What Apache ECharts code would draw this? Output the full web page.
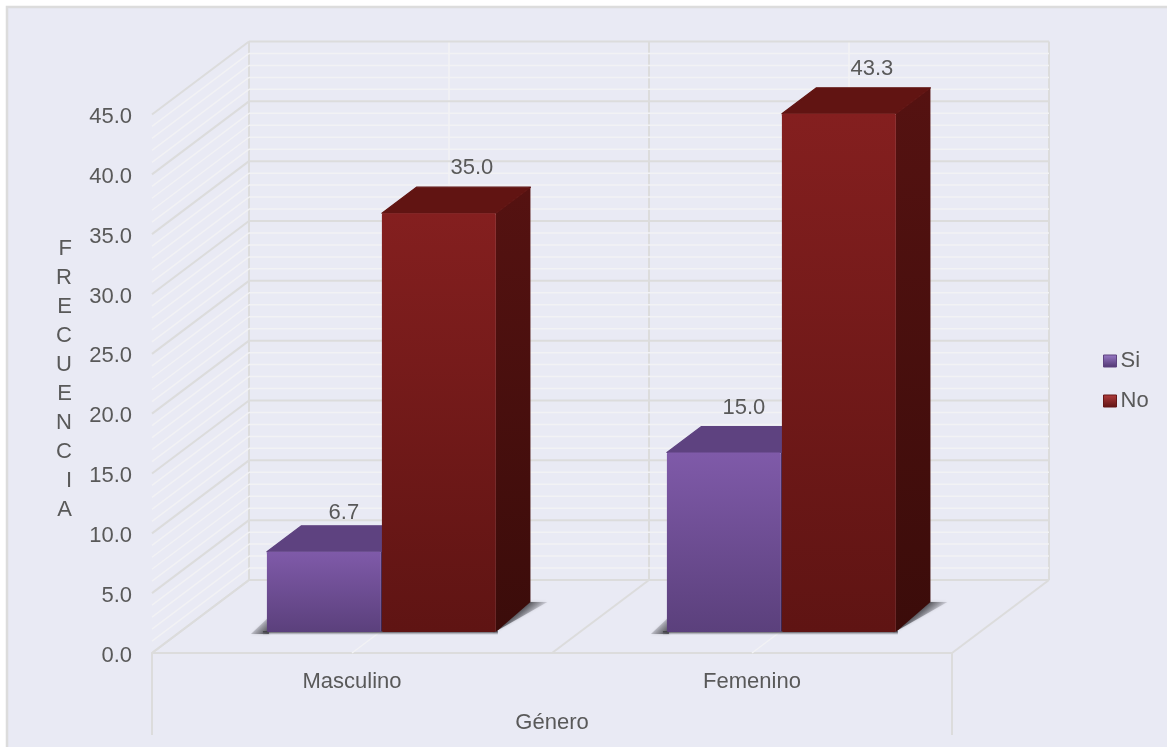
<!DOCTYPE html>
<html><head><meta charset="utf-8">
<style>html,body{margin:0;padding:0;background:#fff}#c{width:1167px;height:747px}</style>
<script src="https://cdn.jsdelivr.net/npm/echarts@6/dist/echarts.min.js"></script>
</head><body><div id="c"></div>
<script>
const categories = ['Masculino', 'Femenino'];
const siValues = [6.7, 15.0];
const noValues = [35.0, 43.3];
const yMajorTicks = [0, 5, 10, 15, 20, 25, 30, 35, 40, 45];
const yMinorTicks = [1,2,3,4,6,7,8,9,11,12,13,14,16,17,18,19,21,22,23,24,26,27,28,29,31,32,33,34,36,37,38,39,41,42,43,44];
const floorMarks = [0, 0.5, 1, 1.5, 2];

const DX = 97, DY = -73;            // full chart depth on screen
const BAR_START = 21 / 73, BAR_DEPTH = 26 / 73, BAR_BASE_DY = -30, BAR_W = 0.285;
const MAJOR = '#DCDCDC', MINOR = '#F2F2F4', FONT = '"Liberation Sans", Arial, sans-serif', TXT = '#595959';
const vg = (a, b) => ({ type: 'linear', x: 0, y: 0, x2: 0, y2: 1, colorStops: [{ offset: 0, color: a }, { offset: 1, color: b }] });

function line(x1, y1, x2, y2, stroke, w) {
  return { type: 'line', shape: { x1, y1, x2, y2 }, style: { stroke, lineWidth: w, fill: null }, silent: true };
}
function poly(points, fill, extra) {
  return { type: 'polygon', shape: { points }, style: Object.assign({ fill }, extra || {}), silent: true };
}
function frame(api) {
  const c0 = api.coord([0, 0]), band = api.size([1, 0])[0];
  return { left: c0[0] - band / 2, band, zero: c0[1] };
}
function horizontal(stroke, w) {
  return function (params, api) {
    const f = frame(api), y = api.coord([0, api.value(1)])[1];
    const back = f.left + 2 * f.band + DX;
    return { type: 'group', silent: true, children: [
      line(f.left, y, f.left + DX, y + DY, stroke, w),
      line(f.left + DX, y + DY, back, y + DY, stroke, w)
    ] };
  };
}
function verticalItem(params, api) {
  const f = frame(api), k = api.value(0), major = k % 1 === 0;
  const top = api.coord([0, 45])[1] + DY, col = major ? MAJOR : MINOR, w = major ? 2 : 1.5;
  const x = f.left + k * f.band;
  const kids = [line(x + DX, top, x + DX, f.zero + DY, col, w), line(x, f.zero, x + DX, f.zero + DY, col, w)];
  if (k === 0 || k === 2) kids.push(line(x, f.zero, x, f.zero + 82, MAJOR, 2));
  return { type: 'group', silent: true, children: kids };
}
function shadowItem(params, api) {
  const f = frame(api), idx = api.value(0);
  const cx = f.left + (idx + 0.5) * f.band + DX * BAR_START;
  const w = BAR_W * f.band, yb = f.zero + DY * BAR_START;
  const xL = cx - w + 1, xR = cx + w + 2, dx = DX * BAR_DEPTH, dy = BAR_BASE_DY;
  const fade = (x, y, x2, y2, a) => ({ type: 'linear', global: true, x, y, x2, y2, colorStops: [
    { offset: 0, color: 'rgba(60,60,65,' + a + ')' }, { offset: 1, color: 'rgba(130,130,140,0)' }] });
  const blur = { shadowBlur: 3, shadowColor: 'rgba(90,90,95,0.45)' };
  return { type: 'group', silent: true, children: [
    // left wedge
    poly([[xL - 16, yb + 2], [xL + 2, yb - 15], [xL + 2, yb + 2]], fade(xL + 2, yb + 2, xL - 11, yb - 11, 1), blur),
    // right wedge
    poly([[xR - 3, yb + 1], [xR + dx - 2, yb + dy], [xR + dx + 17, yb + dy]], fade(xR + dx - 4, yb + dy, xR + dx + 7, yb + dy + 13, 1), blur),
    // contact line under the bars
    { type: 'rect', shape: { x: xL - 4, y: yb - 1, width: xR - xL + 6, height: 4 }, style: { fill: fade(0, yb, 0, yb + 3, 0.8) }, silent: true }
  ] };
}
function barRender(side, front, topFace, sideFace) {
  return function (params, api) {
    const f = frame(api), idx = api.value(0), val = api.value(1);
    const cx = f.left + (idx + 0.5) * f.band + DX * BAR_START;
    const w = BAR_W * f.band, x0 = side < 0 ? cx - w + 1 : cx + 2, x1 = x0 + w;
    const yb = f.zero + DY * BAR_START, yt = api.coord([idx, val])[1] + DY * BAR_START;
    const dx = DX * BAR_DEPTH, dy = DY * BAR_DEPTH;
    const labelDy = val < 10 ? -13 : -19;
    const labelX = (x0 + x1) / 2 + (side < 0 ? 20 : 33);
    const soft = (c) => ({ stroke: c, lineWidth: 1.2, lineJoin: 'round' });
    return { type: 'group', children: [
      poly([[x1, yt], [x1 + dx, yt + dy], [x1 + dx, yb + BAR_BASE_DY], [x1, yb]], vg(sideFace[0], sideFace[1]), { lineJoin: 'round' }),
      poly([[x0, yt], [x0 + dx, yt + dy], [x1 + dx, yt + dy], [x1, yt]], topFace, soft(topFace)),
      { type: 'rect', shape: { x: x0, y: yt, width: w, height: yb - yt, r: 1.5 }, style: { fill: vg(front[0], front[1]) }, silent: true },
      { type: 'text', x: labelX, y: yt + dy + labelDy, silent: true,
        style: { text: val.toFixed(1), fill: TXT, font: '22px ' + FONT, align: 'center', verticalAlign: 'middle' } }
    ] };
  };
}
const xy = (vals) => vals.map((v, i) => [i, v]);
const wall = (vals) => vals.map(v => [0, v]);
const customBase = { type: 'custom', clip: false, silent: true, tooltip: { show: false }, legendHoverLink: false };

const chart = echarts.init(document.getElementById('c'), null, { renderer: 'canvas' });
chart.setOption({
  animation: false,
  backgroundColor: '#FFFFFF',
  graphic: [{ type: 'rect', z: -10, silent: true, shape: { x: 7, y: 7, width: 1200, height: 800 },
    style: { fill: '#E9EAF4', stroke: '#DCDCDC', lineWidth: 2.5 } }],
  grid: { left: 152, right: 215, top: 114.5, bottom: 94, containLabel: false },
  legend: {
    orient: 'vertical', left: 1098, top: 345, itemWidth: 13, itemHeight: 12, itemGap: 18,
    textStyle: { fontFamily: FONT, fontSize: 22, color: TXT, padding: [0, 0, 0, -1] },
    data: [
      { name: 'Si', icon: 'rect', itemStyle: { color: vg('#9A7BC8', '#4F3570'), borderColor: '#5E4280', borderWidth: 1 } },
      { name: 'No', icon: 'rect', itemStyle: { color: vg('#B23C3C', '#5F1413'), borderColor: '#661616', borderWidth: 1 } }
    ]
  },
  xAxis: {
    type: 'category', data: categories, name: 'Género', nameLocation: 'middle', nameGap: 59,
    nameTextStyle: { fontFamily: FONT, fontSize: 22, color: TXT },
    axisLine: { show: true, lineStyle: { color: MAJOR, width: 2 } }, axisTick: { show: false },
    axisLabel: { fontFamily: FONT, fontSize: 22, color: TXT, margin: 18 }, splitLine: { show: false }
  },
  yAxis: {
    type: 'value', min: 0, max: 45, interval: 5,
    name: 'FRECUENCIA'.split('').join('\n') + '\n{s| }', nameLocation: 'middle', nameRotate: 0, nameGap: 80,
    nameTextStyle: { fontFamily: FONT, fontSize: 22, color: TXT, lineHeight: 29, rich: { s: { fontSize: 1, lineHeight: 8 } } },
    axisLine: { show: false }, axisTick: { show: false }, splitLine: { show: false },
    axisLabel: { fontFamily: FONT, fontSize: 22, color: TXT, margin: 20, verticalAlign: 'top', lineHeight: 5, formatter: v => v.toFixed(1) }
  },
  series: [
    Object.assign({}, customBase, { name: 'verticals', z: 1, encode: { x: 0, y: 1 }, data: floorMarks.map(k => [k, 0]), renderItem: verticalItem }),
    Object.assign({}, customBase, { name: 'minor', z: 2, encode: { x: 0, y: 1 }, data: wall(yMinorTicks), renderItem: horizontal(MINOR, 1.5) }),
    Object.assign({}, customBase, { name: 'major', z: 3, encode: { x: 0, y: 1 }, data: wall(yMajorTicks), renderItem: horizontal(MAJOR, 2) }),
    Object.assign({}, customBase, { name: 'shadow', z: 4, encode: { x: 0, y: 1 }, data: xy(noValues), renderItem: shadowItem }),
    Object.assign({}, customBase, { name: 'Si', z: 5, encode: { x: 0, y: 1 }, data: xy(siValues), itemStyle: { color: '#7E59A8' },
      renderItem: barRender(-1, ['#7F5AA9', '#5B407C'], '#5E4280', ['#4A3268', '#3A2752']) }),
    Object.assign({}, customBase, { name: 'No', z: 6, encode: { x: 0, y: 1 }, data: xy(noValues), itemStyle: { color: '#841F1F' },
      renderItem: barRender(1, ['#841F1F', '#5F1413'], '#611412', ['#551211', '#3B0C0A']) })
  ]
});
</script></body></html>
